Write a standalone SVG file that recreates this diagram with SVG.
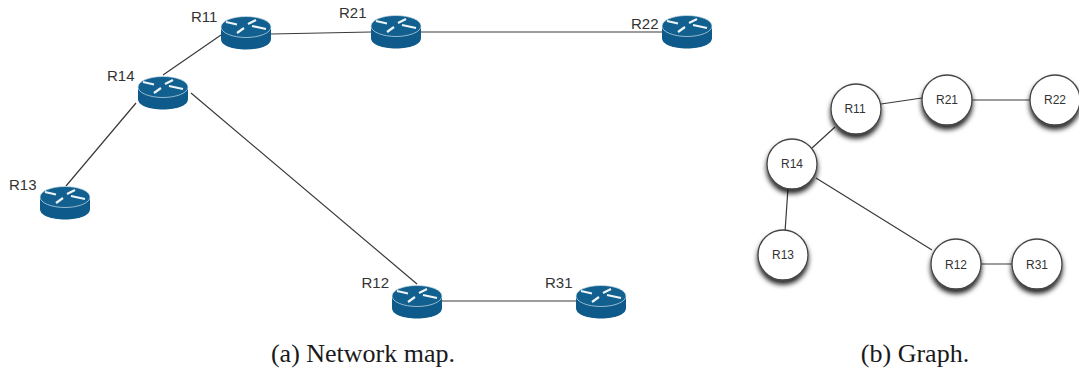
<svg xmlns="http://www.w3.org/2000/svg" xmlns:xlink="http://www.w3.org/1999/xlink" width="1079" height="373" viewBox="0 0 1079 373">
<style>
.c{fill:none;stroke:#3a3a3a;stroke-width:1.2}
.l{font:15px "Liberation Sans",Arial,sans-serif;fill:#333}
.g{font:12px "Liberation Sans",Arial,sans-serif;fill:#333;text-anchor:middle}
.cap{font:26px "Liberation Serif","Times New Roman",serif;fill:#1a1a1a;text-anchor:middle}
.n{fill:#fff;stroke:#444;stroke-width:1.3;filter:url(#s)}
</style>
<defs>
<filter id="s" x="-30%" y="-30%" width="160%" height="170%"><feDropShadow dx="0" dy="4" stdDeviation="2.6" flood-color="#000" flood-opacity="0.85"/></filter>
<g id="router">
<path d="M-25-6V6C-25 12.500-14 16.500 0 16.500S25 12.500 25 6V-6Z" fill="#0e5a8a"/>
<ellipse cx="0" cy="-6" rx="25" ry="10.500" fill="#11608f" stroke="#cfe0ea" stroke-width="0.7"/>
<path d="M-20-11-9-8.500M10-13 2-9M-9 0-2-5M6-7 20-4" fill="none" stroke="#eef4f8" stroke-width="2.200"/>
</g>
</defs>
<g id="connectors">
<path class="c" d="M221 35 163 75M136 103 66 186M191 93 417 284M271 34 371 32M421 32 662 32M442 301 577 301"/>
<path class="c" d="M835 127 812 148M881 104 922 98M972 100 1031 100M788 188 785 232M816 178 932 250M981 264 1013 264"/>
</g>
<g id="R11"><use xlink:href="#router" x="246" y="33"/><text class="l" x="191" y="22">R11</text></g>
<g id="R21"><use xlink:href="#router" x="396" y="32"/><text class="l" x="339" y="18">R21</text></g>
<g id="R22"><use xlink:href="#router" x="687" y="32"/><text class="l" x="631" y="29">R22</text></g>
<g id="R14"><use xlink:href="#router" x="163" y="93"/><text class="l" x="107" y="81">R14</text></g>
<g id="R13"><use xlink:href="#router" x="65" y="203"/><text class="l" x="9" y="190">R13</text></g>
<g id="R12"><use xlink:href="#router" x="417" y="302"/><text class="l" x="361.500" y="288">R12</text></g>
<g id="R31"><use xlink:href="#router" x="601" y="302"/><text class="l" x="545" y="288">R31</text></g>
<g id="g-R11"><circle class="n" cx="856" cy="109" r="25"/><text class="g" x="855" y="113">R11</text></g>
<g id="g-R21"><circle class="n" cx="947" cy="100" r="25"/><text class="g" x="947" y="104">R21</text></g>
<g id="g-R22"><circle class="n" cx="1055" cy="100" r="25"/><text class="g" x="1055" y="104">R22</text></g>
<g id="g-R14"><circle class="n" cx="792" cy="164" r="25"/><text class="g" x="792" y="168">R14</text></g>
<g id="g-R13"><circle class="n" cx="783" cy="255" r="25"/><text class="g" x="783" y="259">R13</text></g>
<g id="g-R12"><circle class="n" cx="956" cy="264" r="25"/><text class="g" x="956" y="269">R12</text></g>
<g id="g-R31"><circle class="n" cx="1037" cy="264" r="25"/><text class="g" x="1037" y="269">R31</text></g>
<text class="cap" x="363" y="362">(a) Network map.</text>
<text class="cap" x="915" y="362">(b) Graph.</text>
</svg>
